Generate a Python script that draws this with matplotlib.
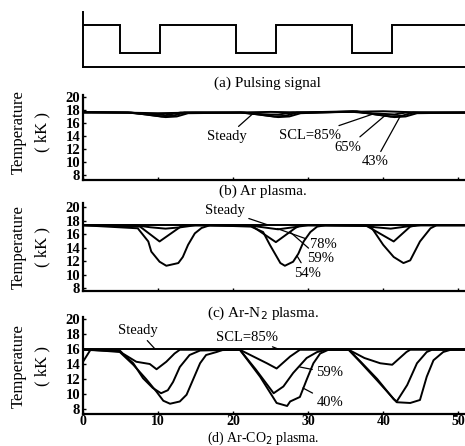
import matplotlib
matplotlib.use('Agg')
import matplotlib.pyplot as plt

plt.rcParams['font.family'] = ['Liberation Serif', 'DejaVu Serif']

# (a) pulsing signal: switching times and on/off levels
sig_edges = [0, 4.9, 10.3, 20.4, 25.7, 35.9, 41.2, 50.9]
sig_levels = [1, 0, 1, 0, 1, 0, 1]

# (b) Ar plasma
b_steady_x = [0, 5, 10, 15, 20, 25, 30, 35, 40, 45, 50.9]
b_steady_y = [17.7, 17.6, 17.5, 17.6, 17.6, 17.7, 17.6, 17.7, 17.8, 17.6, 17.6]
b_85_x = [0, 6, 8, 10, 11, 13, 21, 23, 25, 26, 28, 36, 38, 40, 41.5, 43, 50.9]
b_85_y = [17.6, 17.6, 17.4, 17.3, 17.2, 17.6, 17.6, 17.4, 17.3, 17.3, 17.6, 17.7, 17.5, 17.4, 17.3, 17.6, 17.6]
b_65_x = [0, 6, 8.5, 10.5, 12, 13.5, 21, 23.5, 25.5, 27, 28.5, 36, 38.5, 41, 42.5, 44, 50.9]
b_65_y = [17.6, 17.6, 17.3, 17.0, 17.1, 17.6, 17.6, 17.3, 17.0, 17.1, 17.6, 17.8, 17.4, 17.0, 17.1, 17.6, 17.6]
b_43_x = [0, 6.5, 9, 11, 12.5, 14, 21.5, 24, 26, 27.5, 29, 36.5, 39, 41.5, 43, 44.5, 50.9]
b_43_y = [17.7, 17.6, 17.2, 16.9, 17.0, 17.5, 17.6, 17.2, 16.9, 17.0, 17.5, 17.8, 17.3, 16.9, 17.0, 17.5, 17.6]

# (c) Ar-N2 plasma
c_steady_x = [0, 50.9]
c_steady_y = [17.4, 17.4]
c_78_x = [0, 7, 9, 11, 13, 15, 22, 24, 26, 28, 30, 37, 39, 41, 43, 45, 50.9]
c_78_y = [17.3, 17.3, 17.0, 16.8, 17.0, 17.3, 17.3, 17.0, 16.7, 17.0, 17.3, 17.3, 17.0, 16.8, 17.1, 17.3, 17.3]
c_59_x = [0, 7.6, 10.2, 12.7, 13.3, 22.5, 25.7, 28.3, 29, 37.8, 41.4, 43.6, 44.5, 50.9]
c_59_y = [17.3, 17.1, 14.9, 16.85, 17.3, 17.2, 14.8, 16.9, 17.3, 17.2, 14.9, 17.1, 17.3, 17.3]
c_54_x = [0, 7.3, 8.7, 9.1, 10.2, 11.1, 12.7, 13.3, 14.0, 14.9, 15.8, 16.9,
          22.4, 24.0, 24.9, 26.3, 26.9, 28.0, 28.7, 29.4, 30.3, 31.2, 32.3,
          38.3, 40.0, 41.4, 42.7, 43.6, 44.9, 46.3, 47.1, 50.9]
c_54_y = [17.3, 16.85, 14.9, 13.4, 11.9, 11.3, 11.7, 12.6, 14.4, 16.1, 16.9, 17.3,
          17.1, 16.3, 14.4, 11.7, 11.3, 11.9, 13.1, 14.9, 16.3, 17.1, 17.3,
          17.2, 14.4, 12.6, 11.7, 12.1, 14.9, 16.85, 17.3, 17.3]

# (d) Ar-CO2 plasma
d_steady_x = [0, 50.9]
d_steady_y = [16.0, 16.0]
d_85_x = [0, 1, 4.9, 5.3, 7.1, 8.9, 9.8, 11.1, 12.2, 12.9, 20.9, 24.5, 25.8, 27.6, 28.9,
          35.4, 37.5, 39.6, 41.2, 43.1, 43.6, 50.9]
d_85_y = [15.9, 15.9, 15.8, 15.4, 14.3, 14.0, 13.3, 14.3, 15.4, 15.9, 15.9, 14.1, 13.4, 15.0, 15.9,
          15.9, 14.8, 14.1, 13.9, 15.6, 15.9, 15.9]
d_59_x = [0, 4.9, 6.7, 8.0, 9.3, 10.4, 11.3, 12.0, 12.9, 14.2, 15.6, 20.9, 23.0, 25.4, 26.7,
          28.0, 29.8, 31.2, 32.5, 35.4, 37.0, 39.2, 41.4, 41.8, 43.2, 44.5, 45.8, 46.5, 50.9]
d_59_y = [15.9, 15.7, 14.1, 12.1, 10.8, 10.1, 10.5, 11.6, 13.6, 15.2, 15.8, 15.9, 13.3, 10.1, 11.0,
          12.8, 14.8, 15.6, 15.9, 15.9, 14.3, 12.0, 9.3, 9.0, 11.2, 14.1, 15.6, 15.9, 15.9]
d_40_x = [0, 1, 4.9, 6.7, 8.4, 9.8, 10.7, 11.6, 12.9, 13.8, 14.7, 15.6, 16.4, 17.8, 18.7,
          20.9, 23.6, 25.8, 27.2, 27.6, 28.9, 29.8, 30.7, 31.6, 32.7,
          35.4, 37.0, 39.2, 41.8, 43.6, 44.9, 45.8, 46.7, 48.0, 49, 50.9]
d_40_y = [14.3, 15.9, 15.6, 13.9, 12.0, 10.3, 9.1, 8.7, 9.0, 9.9, 12.0, 14.1, 15.2, 15.6, 15.9,
          15.9, 12.3, 8.8, 8.4, 9.0, 9.6, 11.9, 14.1, 15.4, 15.9,
          15.9, 14.2, 11.8, 8.9, 8.8, 9.2, 12.3, 14.5, 15.6, 15.9, 15.9]

y_ticks = [8, 10, 12, 14, 16, 18, 20]
x_ticks = [0, 10, 20, 30, 40, 50]

W, H = 465, 446
fig = plt.figure(figsize=(W / 100, H / 100), dpi=100)


def rect(top, bottom, left=83, right=465):
    return [left / W, 1 - bottom / H, (right - left) / W, (bottom - top) / H]


def style(ax, ylim):
    ax.set_xlim(0, 50.9)
    ax.set_ylim(*ylim)
    for s in ['top', 'right']:
        ax.spines[s].set_visible(False)
    for s in ['left', 'bottom']:
        ax.spines[s].set_linewidth(1.6)
    ax.set_yticks(y_ticks)
    ax.set_xticks(x_ticks)
    ax.tick_params(direction='in', length=2, width=1, labelsize=10.5, pad=2)
    ax.tick_params(axis='x', labelsize=10, pad=1)
    for t in ax.get_yticklabels():
        t.set_fontweight('bold')
    ax.set_facecolor('none')


lw = 1.4
k = 'black'

# (a)
ax_a = fig.add_axes(rect(12, 67))
ax_a.stairs(sig_levels, sig_edges, color=k, lw=lw, baseline=None)
ax_a.set_xlim(0, 50.9)
ax_a.set_ylim(-0.5, 1.46)
ax_a.set_xticks([])
ax_a.set_yticks([])
for s in ['top', 'right']:
    ax_a.spines[s].set_visible(False)
for s in ['left', 'bottom']:
    ax_a.spines[s].set_linewidth(1.4)
fig.text(267 / W, 1 - 83 / H, '(a) Pulsing signal', ha='center', va='center', fontsize=11)

# (b)
ax_b = fig.add_axes(rect(95, 180))
style(ax_b, (7.23, 20.3))
ax_b.set_xticklabels([])
for xs, ys in [(b_steady_x, b_steady_y), (b_85_x, b_85_y), (b_65_x, b_65_y), (b_43_x, b_43_y)]:
    ax_b.plot(xs, ys, color=k, lw=lw)
ann = dict(arrowstyle='-', color=k, lw=0.9, shrinkA=1, shrinkB=0)
fs = 10.5
ax_b.annotate('Steady', xy=(22.7, 17.5), xytext=(19.2, 13.9), ha='center', va='center', fontsize=fs, arrowprops=ann)
ax_b.annotate('SCL=85%', xy=(38.7, 17.4), xytext=(30.3, 14.1), ha='center', va='center', fontsize=fs, arrowprops=ann)
ax_b.annotate('65%', xy=(40.3, 17.2), xytext=(35.3, 12.3), ha='center', va='center', fontsize=fs, arrowprops=ann)
ax_b.annotate('43%', xy=(42.3, 17.1), xytext=(38.9, 10.0), ha='center', va='center', fontsize=fs, arrowprops=ann)
fig.text(263 / W, 1 - 191 / H, '(b) Ar plasma.', ha='center', va='center', fontsize=11)

# (c)
ax_c = fig.add_axes(rect(203, 291))
style(ax_c, (7.56, 20.6))
ax_c.set_xticklabels([])
for xs, ys in [(c_steady_x, c_steady_y), (c_78_x, c_78_y), (c_59_x, c_59_y), (c_54_x, c_54_y)]:
    ax_c.plot(xs, ys, color=k, lw=lw)
ax_c.annotate('Steady', xy=(24.5, 17.4), xytext=(18.9, 19.5), ha='center', va='center', fontsize=fs, arrowprops=ann)
ax_c.annotate('78%', xy=(25.9, 16.8), xytext=(32.0, 14.4), ha='center', va='center', fontsize=fs, arrowprops=ann)
ax_c.annotate('59%', xy=(27.6, 16.3), xytext=(31.6, 12.4), ha='center', va='center', fontsize=fs, arrowprops=ann)
ax_c.annotate('54%', xy=(28.5, 12.8), xytext=(29.9, 10.2), ha='center', va='center', fontsize=fs, arrowprops=ann)
fig.text(263 / W, 1 - 313 / H, '(c) Ar-N$_2$ plasma.', ha='center', va='center', fontsize=11)

# (d)
ax_d = fig.add_axes(rect(317, 414))
style(ax_d, (7.33, 20.27))
for t in ax_d.get_xticklabels():
    t.set_fontweight('bold')
for xs, ys in [(d_steady_x, d_steady_y), (d_85_x, d_85_y), (d_59_x, d_59_y), (d_40_x, d_40_y)]:
    ax_d.plot(xs, ys, color=k, lw=lw)
ax_d.annotate('Steady', xy=(9.6, 16.0), xytext=(7.3, 18.5), ha='center', va='center', fontsize=fs, arrowprops=ann)
ax_d.annotate('SCL=85%', xy=(26.0, 16.0), xytext=(21.9, 17.6), ha='center', va='center', fontsize=fs, arrowprops=ann)
ax_d.annotate('59%', xy=(28.9, 13.6), xytext=(32.9, 12.8), ha='center', va='center', fontsize=fs, arrowprops=ann)
ax_d.annotate('40%', xy=(29.3, 10.8), xytext=(32.9, 8.9), ha='center', va='center', fontsize=fs, arrowprops=ann)
fig.text(263 / W, 1 - 438 / H, '(d) Ar-CO$_2$ plasma.', ha='center', va='center', fontsize=10)

# y labels
for cy in [132, 247, 366]:
    fig.text(19 / W, 1 - cy / H, 'Temperature', rotation=90, ha='center', va='center', fontsize=12)
    fig.text(42 / W, 1 - cy / H, '( kK )', rotation=90, ha='center', va='center', fontsize=12)

fig.savefig('out.png', dpi=100)
